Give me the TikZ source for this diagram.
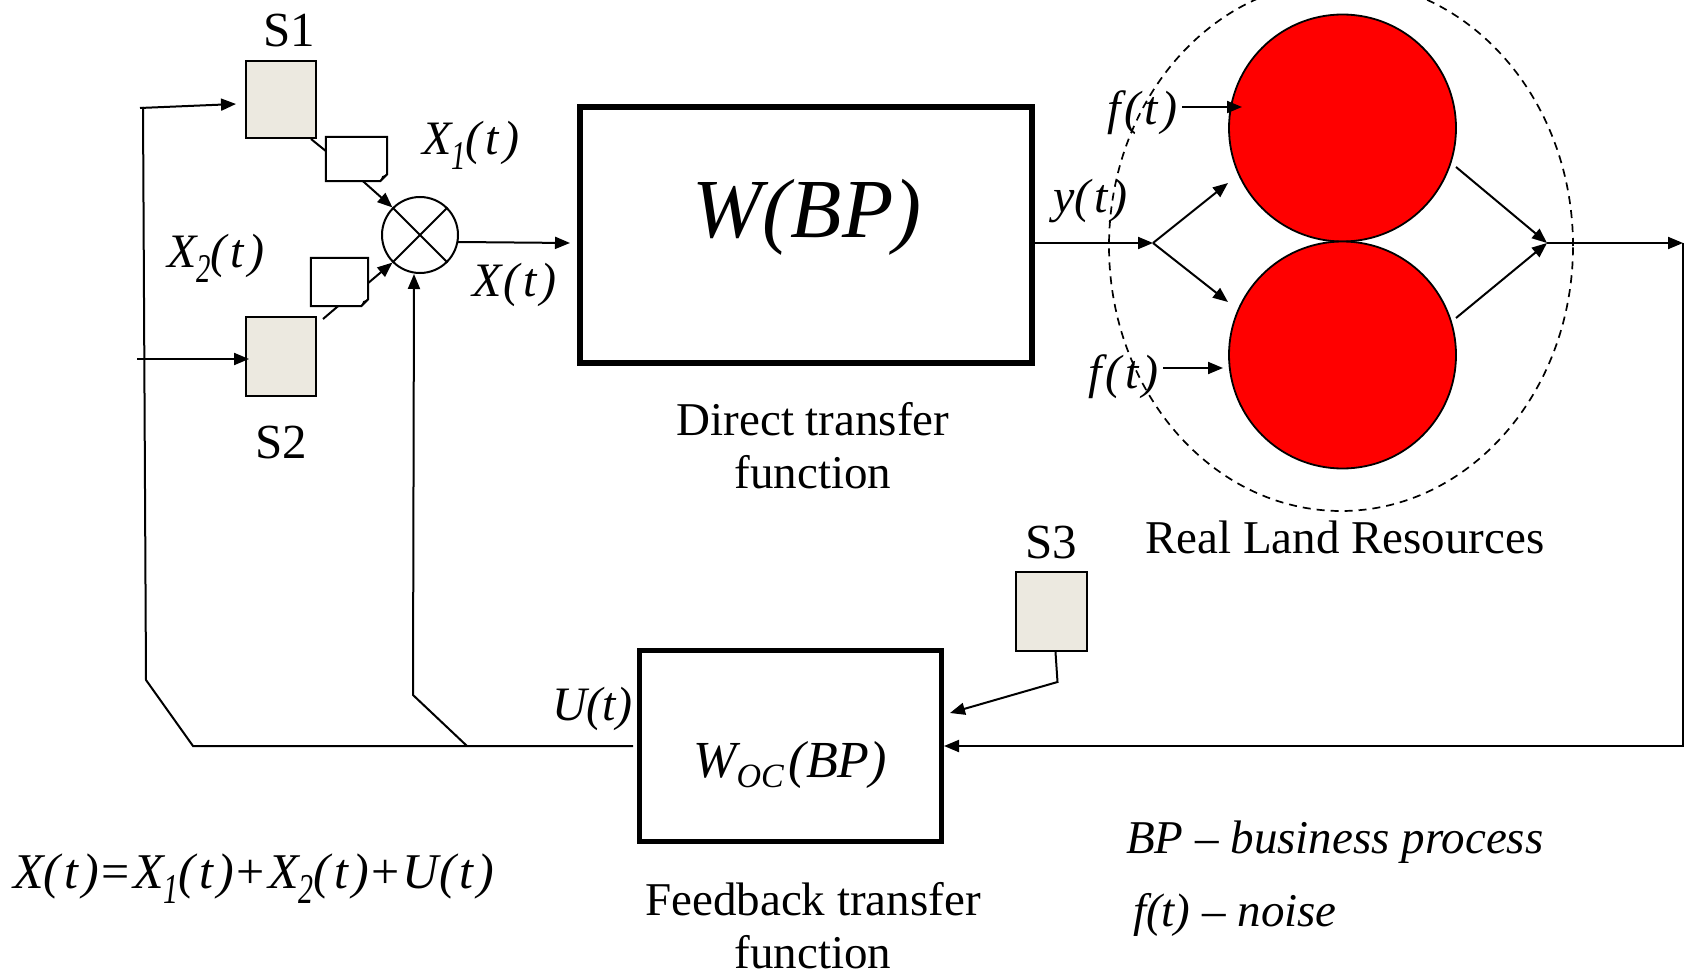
\documentclass[tikz,border=0pt]{standalone}
\usepackage{fontspec}
\setmainfont{Liberation Serif}
\usepackage{graphicx}
\usetikzlibrary{arrows.meta,calc,shapes.geometric}
\definecolor{sgray}{RGB}{236,233,224}
\definecolor{bred}{RGB}{255,0,0}
\newcommand\fs[1]{\fontsize{#1}{#1}\selectfont}
\newcommand\lsb[1]{\raisebox{-0.3em}{\scalebox{0.6}[0.85]{#1}}}
\newcommand\pt{(\kern4pt t\kern4pt)}
\newcommand\op[1]{\kern3pt\textup{#1}\kern3pt}
\begin{document}
\begin{tikzpicture}[x=1pt,y=-1pt,
  ln/.style={line width=2pt},
  arr/.style={line width=2pt,-{Triangle[length=15pt,width=12pt]}},
  sbox/.style={draw,line width=2pt,fill=sgray,minimum width=70pt,inner sep=0pt},
  tf/.style={draw,line width=6pt,fill=white,inner sep=0pt},
  lbl/.style={inner sep=0pt,font=\fs{48}\itshape},
  txt/.style={inner sep=0pt,font=\fs{47}},
  note/.style={inner sep=0pt}]
\useasboundingbox (0,0) rectangle (1686,976);

% dashed boundary of real land resources
\node[ellipse,draw,line width=1.7pt,dash pattern=on 8pt off 6pt,minimum width=464pt,minimum height=530pt,inner sep=0pt] (rlr) at (1341,246) {};

% source boxes
\node[sbox,minimum height=77pt] (s1) at (281,99.5) {};
\node[sbox,minimum height=79pt] (s2) at (281,356.5) {};
\node[sbox,minimum width=71pt,minimum height=79pt] (s3) at (1051.5,611.5) {};
\node[txt,font=\fs{49},anchor=base] (s1l) at (289,47) {S1};
\node[txt,font=\fs{49},anchor=base] (s2l) at (281,458) {S2};
\node[txt,font=\fs{49},anchor=base] (s3l) at (1051,558) {S3};

% notes
\node[note,minimum width=61pt,minimum height=44pt] (n1) at (356.5,159) {};
\node[note,minimum width=57pt,minimum height=48pt] (n2) at (339.5,282) {};
\foreach \n in {n1,n2}{
  \draw[ln,fill=white] (\n.north west) -- (\n.north east) -- ($(\n.south east)+(0,-7)$) -- ($(\n.south east)+(-7,0)$) -- (\n.south west) -- cycle;
  \fill ($(\n.south east)+(0,-7)$) -- ($(\n.south east)+(-7,0)$) -- ($(\n.south east)+(-5,-5)$) -- cycle;
}

% summation
\node[circle,draw,line width=2pt,minimum size=76pt,inner sep=0pt] (sum) at (420,235) {};
\draw[ln] (sum.north west) -- (sum.south east) (sum.north east) -- (sum.south west);

% transfer function boxes
\node[tf,minimum width=452pt,minimum height=256pt] (wbp) at (806,235) {};
\node[tf,line width=5pt,minimum width=302pt,minimum height=191pt] (woc) at (790.5,746) {};
\node[lbl,font=\fs{84}\itshape,anchor=base] (wbpt) at (807,238) {W(BP)};
\node[lbl,font=\fs{52}\itshape,anchor=base west] (woct) at (693,777) {W\raisebox{-0.21em}{\fs{34}OC}\kern5pt(BP)};

% land resources
\node[circle,draw,line width=1.8pt,fill=bred,minimum size=227pt,inner sep=0pt] (c1) at (1342.5,128) {};
\node[circle,draw,line width=1.8pt,fill=bred,minimum size=227pt,inner sep=0pt] (c2) at (1342.5,355) {};

% labels
\node[lbl,anchor=base west] (x1l) at (422,155) {X\lsb{1}\pt};
\node[lbl,anchor=base west] (x2l) at (167,268) {X\lsb{2}\pt};
\node[lbl,anchor=base west] (xl) at (472,297) {X\kern2pt\pt};
\node[lbl,anchor=base west] (ul) at (552,720) {U(t)};
\node[lbl,anchor=base west] (yl) at (1053,213) {y\pt};
\node[lbl,anchor=base west] (f1l) at (1107,125) {f\kern4pt\pt};
\node[lbl,anchor=base west] (f2l) at (1088,388) {f\kern4pt\pt};
\node[txt,anchor=base] (dt1) at (813,435) {Direct transfer};
\node[txt,anchor=base] (dt2) at (813,488) {function};
\node[txt,anchor=base] (ft1) at (813,915) {Feedback transfer};
\node[txt,anchor=base] (ft2) at (813,968) {function};
\node[txt,anchor=base west] (rl) at (1145,553) {Real Land Resources};
\node[lbl,font=\fs{47}\itshape,anchor=base west] (bp) at (1126,853) {BP – business process};
\node[lbl,font=\fs{47}\itshape,anchor=base west] (fn) at (1133,926) {f(t) – noise};
\node[lbl,font=\fs{50}\itshape,anchor=base west] (eq) at (13,888) {X\pt\op{=}X\lsb{1}\pt\op{+}X\lsb{2}\pt\op{+}U\pt};

% coordinates
\coordinate (j1) at (193,746);
\coordinate (j2) at (467,746);
\coordinate (k1) at (146,680);
\coordinate (k2) at (143,107);
\coordinate (in1) at (140,108);
\coordinate (in2) at (137,359);
\coordinate (k3) at (413,695);
\coordinate (yj) at (1153,243);
\coordinate (oj) at (1547,243);
\coordinate (rc) at (1683,243);

% connectors
\draw[ln] ($(woc.west)+(-4,0)$) -- (j2) -- (j1) -- (k1) -- (k2);
\draw[arr] (in1) -- ($(s1.west)+(-9,4.5)$);
\draw[arr] (in2) -- ($(s2.west)+(4,2.5)$);
\draw[arr] (j2) -- (k3) -- ($(sum.south)+(-6,0)$);
\draw[ln] ($(s1.south east)+(-6,0)$) -- ($(n1.west)+(0,-8)$);
\draw[arr] ($(n1.south)+(6.5,0)$) -- (sum.north west);
\draw[ln] ($(s2.north east)+(6,3)$) -- ($(n2.south)+(-1.5,0)$);
\draw[arr] ($(n2.east)+(0,1)$) -- (sum.south west);
\draw[arr] ($(sum.east)+(-1,7)$) -- ($(wbp.west)+(-7,8)$);
\draw[arr] ($(wbp.east)+(0,8)$) -- (yj);
\draw[arr] (yj) -- ($(c1.center)+(-114.5,55)$);
\draw[arr] (yj) -- ($(c2.center)+(-114.5,-53)$);
\draw[arr] ($(c1.center)+(-160.5,-21)$) -- ($(c1.center)+(-100.5,-21)$);
\draw[arr] ($(c2.center)+(-179.5,13)$) -- ($(c2.center)+(-119.5,13)$);
\draw[arr] ($(c1.center)+(113.5,39)$) -- (oj);
\draw[arr] ($(c2.center)+(113.5,-37)$) -- (oj);
\draw[arr] (oj) -- (rc);
\draw[arr] (rc) |- (woc.east);
\draw[arr] ($(s3.south)+(4,0)$) -- ++(2,30) -- ($(woc.east)+(6,-33)$);
\end{tikzpicture}
\end{document}
